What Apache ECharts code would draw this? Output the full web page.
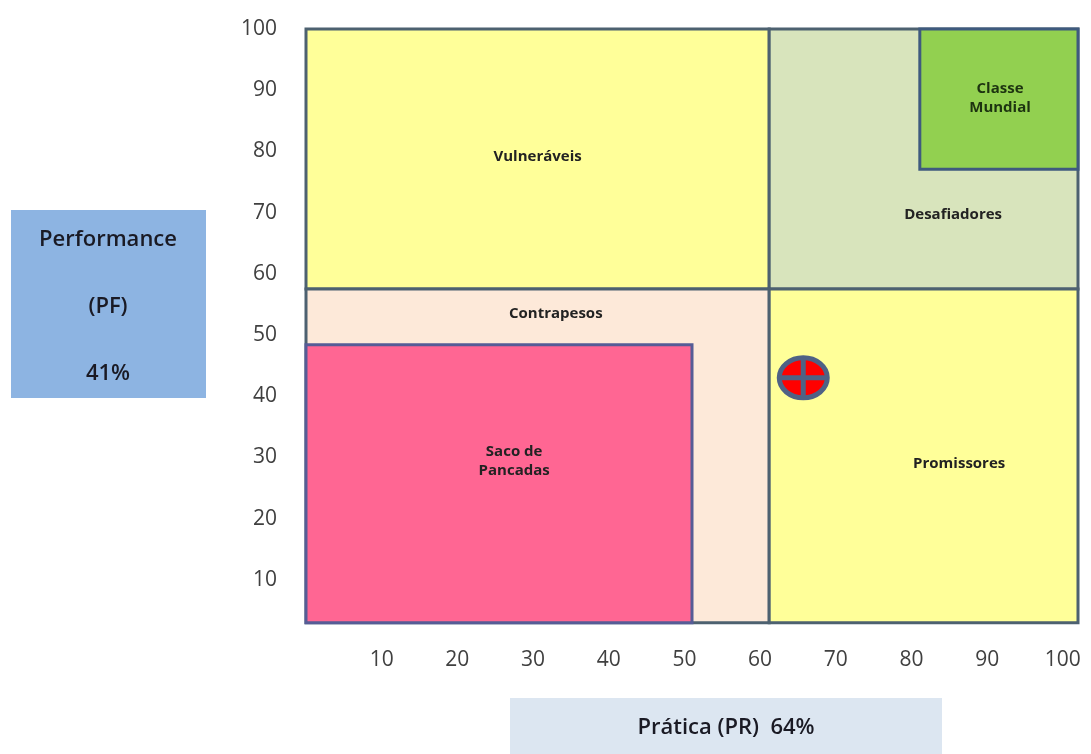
<!DOCTYPE html>
<html>
<head>
<meta charset="utf-8">
<script src="https://cdn.jsdelivr.net/npm/echarts@6/dist/echarts.min.js"></script>
<style>
  html, body { margin: 0; padding: 0; background: #fff; }
  #chart { width: 1091px; height: 754px; }
</style>
</head>
<body>
<div id="chart"></div>
<script>
// quadrantes (coordenadas em PR x PF)
var regionNames = ['Vulneráveis', 'Desafiadores', 'Classe\nMundial', 'Contrapesos', 'Saco de\nPancadas', 'Promissores'];
var regionX0 = [0, 61.2, 81.1, 0, 0, 61.2];
var regionX1 = [61.2, 102, 102, 61.2, 51, 102];
var regionY0 = [57.5, 57.5, 77.1, 3, 3, 3];
var regionY1 = [100, 100, 100, 57.5, 48.4, 57.5];
// onde fica o nome de cada quadrante
var labelX = [30.6, 85.5, 91.7, 33.0, 27.5, 86.3];
var labelY = [79.1, 69.6, 88.7, 53.4, 29.4, 28.9];
// posição da empresa
var pointX = [65.7];
var pointY = [43.0];
var xTicks = [10, 20, 30, 40, 50, 60, 70, 80, 90, 100];
var yTicks = [10, 20, 30, 40, 50, 60, 70, 80, 90, 100];

var fills = ['#FFFF99', '#D8E4BC', '#92D050', '#FDE9D9', '#FF6693', '#FFFF99'];
var strokes = ['#4d6170', '#4d6170', '#3f5a7e', '#4d6170', '#565c96', '#4d6170'];
var textColors = ['#222', '#222', '#1d3310', '#222', '#222', '#222'];

var rectData = [];
var labelData = [];
for (var i = 0; i < regionNames.length; i++) {
    rectData.push([regionX0[i], regionY0[i], regionX1[i], regionY1[i]]);
    labelData.push([labelX[i], labelY[i], regionNames[i]]);
}

var chart = echarts.init(document.getElementById('chart'));
var option = {
    animation: false,
    grid: { left: 306, right: 13, top: 29, bottom: 113 },
    xAxis: {
        type: 'value', min: 0, max: 102,
        axisLine: { show: false }, axisTick: { show: false }, splitLine: { show: false },
        axisLabel: {
            customValues: xTicks, margin: 9,
            color: '#404040', fontSize: 21, fontFamily: 'Open Sans'
        }
    },
    yAxis: {
        type: 'value', min: 0, max: 100,
        axisLine: { show: false }, axisTick: { show: false }, splitLine: { show: false },
        axisLabel: {
            customValues: yTicks, margin: 29,
            color: '#404040', fontSize: 21, fontFamily: 'Open Sans'
        }
    },
    graphic: [
        {
            type: 'rect', left: 11, top: 210,
            shape: { width: 195, height: 188 },
            style: { fill: '#8DB4E2' }
        },
        {
            type: 'text', x: 108, y: 240,
            style: { text: 'Performance', fill: '#1a1a24', font: '600 22px "Open Sans"', align: 'center', verticalAlign: 'middle' }
        },
        {
            type: 'text', x: 108, y: 307,
            style: { text: '(PF)', fill: '#1a1a24', font: '600 22px "Open Sans"', align: 'center', verticalAlign: 'middle' }
        },
        {
            type: 'text', x: 108, y: 374,
            style: { text: '41%', fill: '#1a1a24', font: '600 22px "Open Sans"', align: 'center', verticalAlign: 'middle' }
        },
        {
            type: 'rect', left: 510, top: 698,
            shape: { width: 432, height: 60 },
            style: { fill: '#DCE6F1' }
        },
        {
            type: 'text', x: 726, y: 728,
            style: { text: 'Prática (PR)  64%', fill: '#1a1a24', font: '600 22px "Open Sans"', align: 'center', verticalAlign: 'middle' }
        }
    ],
    series: [
        {
            type: 'custom',
            data: rectData,
            renderItem: function (params, api) {
                var p0 = api.coord([api.value(0), api.value(3)]);
                var p1 = api.coord([api.value(2), api.value(1)]);
                return {
                    type: 'rect',
                    shape: { x: p0[0], y: p0[1], width: p1[0] - p0[0], height: p1[1] - p0[1] },
                    style: { fill: fills[params.dataIndex], stroke: strokes[params.dataIndex], lineWidth: 3 }
                };
            }
        },
        {
            type: 'custom',
            data: labelData,
            renderItem: function (params, api) {
                var p = api.coord([api.value(0), api.value(1)]);
                return {
                    type: 'text',
                    x: p[0], y: p[1],
                    style: {
                        text: labelData[params.dataIndex][2],
                        fill: textColors[params.dataIndex],
                        font: 'bold 15px "Open Sans"',
                        align: 'center', verticalAlign: 'middle',
                        lineHeight: 19
                    }
                };
            }
        },
        {
            type: 'custom',
            data: pointX.map(function (v, i) { return [v, pointY[i]]; }),
            renderItem: function (params, api) {
                var c = api.coord([api.value(0), api.value(1)]);
                var rx = 24, ry = 20;
                return {
                    type: 'group',
                    children: [
                        { type: 'ellipse', shape: { cx: c[0], cy: c[1], rx: rx, ry: ry },
                          style: { fill: '#FF0000', stroke: '#4F6285', lineWidth: 5 } },
                        { type: 'line', shape: { x1: c[0] - rx, y1: c[1], x2: c[0] + rx, y2: c[1] },
                          style: { stroke: '#4F6285', lineWidth: 5 } },
                        { type: 'line', shape: { x1: c[0], y1: c[1] - ry, x2: c[0], y2: c[1] + ry },
                          style: { stroke: '#4F6285', lineWidth: 5 } }
                    ]
                };
            }
        }
    ]
};
chart.setOption(option);
</script>
</body>
</html>
